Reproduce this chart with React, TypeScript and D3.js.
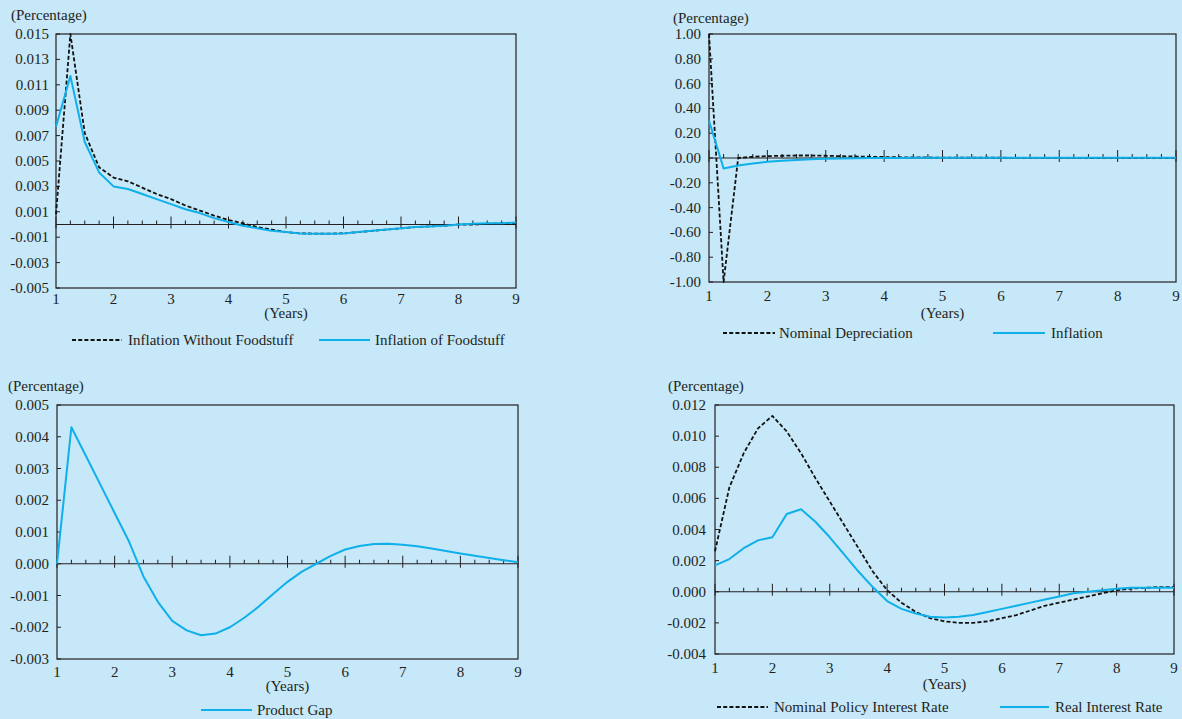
import React from "react";
import * as d3 from "d3";

const quarters = [1, 1.25, 1.5, 1.75, 2, 2.25, 2.5, 2.75, 3, 3.25, 3.5, 3.75, 4, 4.25, 4.5, 4.75, 5, 5.25, 5.5, 5.75, 6, 6.25, 6.5, 6.75, 7, 7.25, 7.5, 7.75, 8, 8.25, 8.5, 8.75, 9];
const yearTicks = [1, 2, 3, 4, 5, 6, 7, 8, 9];

// Panel 1
const inflationWithoutFood = [0.0008, 0.015, 0.0072, 0.0045, 0.0037, 0.0034, 0.0029, 0.0024, 0.002, 0.0015, 0.0011, 0.0007, 0.00035, 0.0001, -0.0002, -0.0004, -0.0006, -0.0007, -0.00072, -0.00072, -0.0007, -0.0006, -0.0005, -0.0004, -0.0003, -0.0002, -0.00015, -0.0001, 0.0, 0.0, 0.00005, 0.0001, 0.0001];
const inflationOfFood = [0.0077, 0.0117, 0.0065, 0.0041, 0.003, 0.0028, 0.0024, 0.002, 0.0016, 0.0012, 0.0009, 0.0005, 0.0002, -0.0001, -0.0003, -0.0005, -0.0006, -0.0007, -0.00072, -0.00072, -0.0007, -0.0006, -0.0005, -0.0004, -0.0003, -0.0002, -0.00015, -0.0001, 0.0, 0.00005, 0.0001, 0.0001, 0.00015];
const ticks1 = [-0.005, -0.003, -0.001, 0.001, 0.003, 0.005, 0.007, 0.009, 0.011, 0.013, 0.015];

// Panel 2
const nominalDepreciation = [1.0, -1.0, 0.0, 0.01, 0.015, 0.018, 0.02, 0.02, 0.018, 0.015, 0.012, 0.01, 0.008, 0.006, 0.005, 0.004, 0.003, 0.003, 0.002, 0.002, 0.002, 0.001, 0.001, 0.001, 0.001, 0.001, 0.0, 0.0, 0.0, 0.0, 0.0, 0.0, 0.0];
const inflation = [0.3, -0.085, -0.06, -0.045, -0.03, -0.022, -0.016, -0.011, -0.007, -0.004, -0.002, 0.0, 0.001, 0.001, 0.002, 0.002, 0.002, 0.002, 0.002, 0.002, 0.002, 0.002, 0.002, 0.002, 0.002, 0.002, 0.002, 0.002, 0.002, 0.002, 0.002, 0.002, 0.002];
const ticks2 = [-1.0, -0.8, -0.6, -0.4, -0.2, 0.0, 0.2, 0.4, 0.6, 0.8, 1.0];

// Panel 3
const productGap = [0.0, 0.0043, 0.0034, 0.0025, 0.0016, 0.0007, -0.0004, -0.0012, -0.0018, -0.0021, -0.00225, -0.0022, -0.002, -0.0017, -0.00135, -0.00095, -0.00057, -0.00025, 0.0, 0.00025, 0.00045, 0.00056, 0.00062, 0.00063, 0.0006, 0.00055, 0.00048, 0.0004, 0.00032, 0.00025, 0.00018, 0.00011, 0.00005];
const ticks3 = [-0.003, -0.002, -0.001, 0.0, 0.001, 0.002, 0.003, 0.004, 0.005];

// Panel 4
const nominalPolicyRate = [0.0026, 0.0067, 0.0089, 0.0105, 0.0113, 0.0103, 0.0089, 0.0073, 0.0058, 0.0043, 0.0028, 0.0013, 0.0001, -0.0007, -0.0013, -0.0017, -0.0019, -0.002, -0.002, -0.0019, -0.0017, -0.0015, -0.0012, -0.0009, -0.0007, -0.0005, -0.0003, -0.0001, 0.0001, 0.0002, 0.00025, 0.0003, 0.0003];
const realInterestRate = [0.0017, 0.0021, 0.0028, 0.0033, 0.0035, 0.005, 0.0053, 0.0045, 0.0035, 0.0024, 0.0013, 0.0003, -0.0006, -0.0011, -0.0014, -0.0016, -0.00165, -0.0016, -0.0015, -0.0013, -0.0011, -0.0009, -0.0007, -0.0005, -0.0003, -0.0001, 0.0, 0.0001, 0.0002, 0.00025, 0.00025, 0.00025, 0.00025];
const ticks4 = [-0.004, -0.002, 0.0, 0.002, 0.004, 0.006, 0.008, 0.01, 0.012];

const BG = "#c6e8f9";
const BLUE = "#0fb0ea";
const INK = "#231f20";
const FONT = "'Liberation Serif', 'Times New Roman', serif";

const locale = d3.formatLocale({ decimal: ".", thousands: ",", grouping: [3], currency: ["", ""], minus: "-" });

type Series = { name: string; values: number[]; dashed: boolean; legend: [number, number, number] };

type PanelProps = {
  x0: number; x1: number; y0: number; y1: number;
  domain: [number, number];
  ticks: number[];
  fmt: string;
  labelRight: number;
  pctX: number; pctY: number;
  xLabY: number; yearsY: number; legendY: number;
  series: Series[];
};

function Panel(p: PanelProps) {
  const x = d3.scaleLinear().domain([1, 9]).range([p.x0, p.x1]);
  const y = d3.scaleLinear().domain(p.domain).range([p.y1, p.y0]);
  const f = locale.format(p.fmt);
  const line = d3.line<number>().x((_, i) => x(quarters[i])).y((d) => y(d));
  const zy = y(0);
  return (
    <g>
      <text x={p.pctX} y={p.pctY} fontSize={15} fill={INK} fontFamily={FONT}>(Percentage)</text>
      {p.ticks.map((t) => (
        <g key={"yt" + t}>
          <line x1={p.x0} x2={p.x0 + 4} y1={y(t)} y2={y(t)} stroke={INK} strokeWidth={1} />
          <text x={p.labelRight} y={y(t) + 5} textAnchor="end" fontSize={15} fill={INK} fontFamily={FONT}>{f(t)}</text>
        </g>
      ))}
      {quarters.map((q) => {
        const major = Number.isInteger(q);
        return (
          <line key={"xt" + q} x1={x(q)} x2={x(q)} y1={zy - (major ? 8 : 4)} y2={zy + (major ? 4 : 0)} stroke={INK} strokeWidth={1} />
        );
      })}
      <line x1={p.x0} x2={p.x1} y1={zy} y2={zy} stroke={INK} strokeWidth={1.2} />
      <rect x={p.x0} y={p.y0} width={p.x1 - p.x0} height={p.y1 - p.y0} fill="none" stroke={INK} strokeWidth={1.2} />
      {yearTicks.map((t) => (
        <text key={"xl" + t} x={x(t)} y={p.xLabY} textAnchor="middle" fontSize={15} fill={INK} fontFamily={FONT}>{t}</text>
      ))}
      <text x={x(5)} y={p.yearsY} textAnchor="middle" fontSize={15} fill={INK} fontFamily={FONT}>(Years)</text>
      {p.series.map((s) => (
        <path key={s.name} d={line(s.values) || ""} fill="none"
          stroke={s.dashed ? "#111" : BLUE} strokeWidth={s.dashed ? 1.8 : 2}
          strokeDasharray={s.dashed ? "4,2.2" : undefined} strokeLinejoin="round" />
      ))}
      {p.series.map((s) => (
        <g key={"lg" + s.name}>
          <line x1={s.legend[0]} x2={s.legend[1]} y1={p.legendY - 5} y2={p.legendY - 5}
            stroke={s.dashed ? "#111" : BLUE} strokeWidth={s.dashed ? 1.8 : 2}
            strokeDasharray={s.dashed ? "4,2.2" : undefined} />
          <text x={s.legend[2]} y={p.legendY} fontSize={15} fill={INK} fontFamily={FONT}>{s.name}</text>
        </g>
      ))}
    </g>
  );
}

export default function App() {
  return (
    <div style={{ position: "absolute", left: 0, top: 0 }}>
      <svg width={1182} height={719} style={{ display: "block" }}>
        <rect x={0} y={0} width={1182} height={719} fill={BG} />
        <Panel x0={56} x1={516} y0={34} y1={288} domain={[-0.005, 0.015]} ticks={ticks1} fmt=".3f"
          labelRight={49} pctX={11} pctY={20} xLabY={304} yearsY={318} legendY={345}
          series={[
            { name: "Inflation Without Foodstuff", values: inflationWithoutFood, dashed: true, legend: [72, 122, 128] },
            { name: "Inflation of Foodstuff", values: inflationOfFood, dashed: false, legend: [319, 370, 375] },
          ]} />
        <Panel x0={709} x1={1176} y0={34} y1={282} domain={[-1, 1]} ticks={ticks2} fmt=".2f"
          labelRight={701} pctX={673} pctY={23} xLabY={301} yearsY={318} legendY={338}
          series={[
            { name: "Nominal Depreciation", values: nominalDepreciation, dashed: true, legend: [723, 775, 779] },
            { name: "Inflation", values: inflation, dashed: false, legend: [993, 1045, 1051] },
          ]} />
        <Panel x0={57} x1={518} y0={405} y1={659} domain={[-0.003, 0.005]} ticks={ticks3} fmt=".3f"
          labelRight={49} pctX={8} pctY={391} xLabY={677} yearsY={691} legendY={715}
          series={[
            { name: "Product Gap", values: productGap, dashed: false, legend: [201, 252, 257] },
          ]} />
        <Panel x0={715} x1={1174} y0={405} y1={654} domain={[-0.004, 0.012]} ticks={ticks4} fmt=".3f"
          labelRight={706} pctX={668} pctY={391} xLabY={673} yearsY={689} legendY={712}
          series={[
            { name: "Nominal Policy Interest Rate", values: nominalPolicyRate, dashed: true, legend: [717, 768, 774] },
            { name: "Real Interest Rate", values: realInterestRate, dashed: false, legend: [1000, 1049, 1055] },
          ]} />
      </svg>
    </div>
  );
}
